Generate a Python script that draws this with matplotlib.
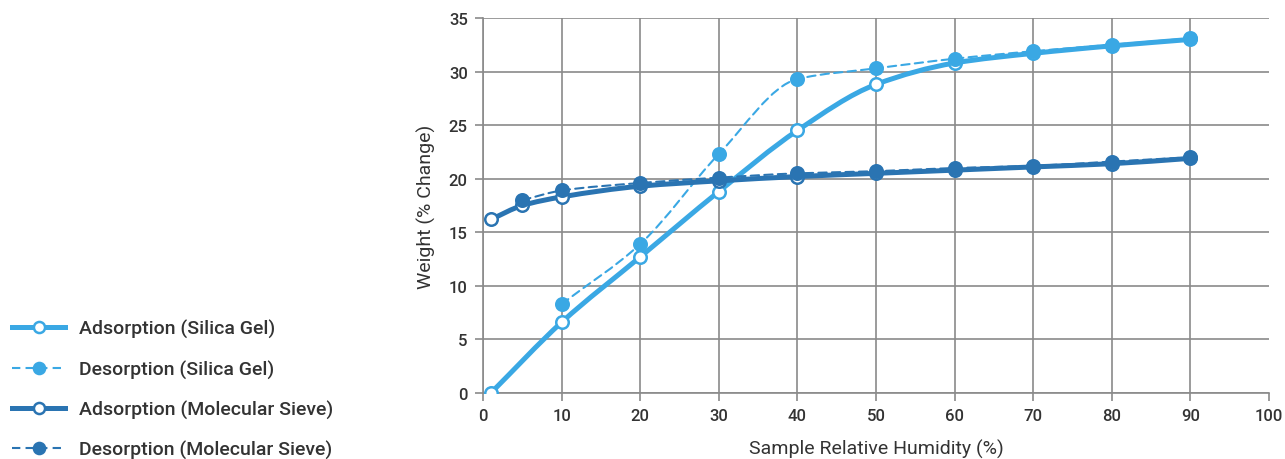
import numpy as np
import matplotlib
matplotlib.use("Agg")
import matplotlib.pyplot as plt
from matplotlib.path import Path
from matplotlib.patches import PathPatch
from matplotlib.lines import Line2D

plt.rcParams['font.family'] = ['Roboto', 'DejaVu Sans']
plt.rcParams['font.weight'] = 'medium'

# ---- data ----
silica_ads_x = [1, 10, 20, 30, 40, 50, 60, 70, 80, 90]
silica_ads_y = [0.0, 6.6, 12.7, 18.8, 24.5, 28.8, 30.8, 31.7, 32.4, 33.0]
silica_des_x = [10, 20, 30, 40, 50, 60, 70, 80, 90]
silica_des_y = [8.3, 13.9, 22.3, 29.3, 30.3, 31.2, 31.9, 32.5, 33.1]
sieve_ads_x = [1, 5, 10, 20, 30, 40, 50, 60, 70, 80, 90]
sieve_ads_y = [16.2, 17.5, 18.3, 19.3, 19.8, 20.2, 20.5, 20.8, 21.1, 21.4, 21.9]
sieve_des_x = [5, 10, 20, 30, 40, 50, 60, 70, 80, 90]
sieve_des_y = [18.0, 18.9, 19.6, 20.1, 20.5, 20.7, 21.0, 21.2, 21.6, 22.0]

labels = ["Adsorption (Silica Gel)", "Desorption (Silica Gel)",
          "Adsorption (Molecular Sieve)", "Desorption (Molecular Sieve)"]
x_ticks = [0, 10, 20, 30, 40, 50, 60, 70, 80, 90, 100]
y_ticks = [0, 5, 10, 15, 20, 25, 30, 35]

LIGHT = "#3AA8E4"
DARK = "#2A74B2"
GRID = "#8a8a8a"
TEXT = "#333333"


def smooth_path(x, y):
    """Monotone cubic Bezier path through the data points."""
    x = np.asarray(x, float)
    y = np.asarray(y, float)
    n = len(x)
    h = np.diff(x)
    d = np.diff(y) / h
    m = np.zeros(n)
    m[0] = d[0]
    m[-1] = d[-1]
    for i in range(1, n - 1):
        if d[i - 1] * d[i] <= 0:
            m[i] = 0
        else:
            w1 = 2 * h[i] + h[i - 1]
            w2 = h[i] + 2 * h[i - 1]
            m[i] = (w1 + w2) / (w1 / d[i - 1] + w2 / d[i])
    verts = [(x[0], y[0])]
    codes = [Path.MOVETO]
    for i in range(n - 1):
        dx = h[i] / 3.0
        verts += [(x[i] + dx, y[i] + m[i] * dx),
                  (x[i + 1] - dx, y[i + 1] - m[i + 1] * dx),
                  (x[i + 1], y[i + 1])]
        codes += [Path.CURVE4] * 3
    return Path(verts, codes)


fig = plt.figure(figsize=(12.85, 4.6), dpi=100)
ax = fig.add_axes([0.3759, 0.1435, 0.6116, 0.8152])

series = [
    (silica_ads_x, silica_ads_y, LIGHT, 3.6, '-', 'white', 3),
    (silica_des_x, silica_des_y, LIGHT, 1.5, (0, (4, 2.5)), LIGHT, 4),
    (sieve_ads_x, sieve_ads_y, DARK, 3.6, '-', 'white', 5),
    (sieve_des_x, sieve_des_y, DARK, 1.5, (0, (4, 2.5)), DARK, 6),
]

handles = []
for (xs, ys, col, lw, ls, mfc, z), lab in zip(series, labels):
    patch = PathPatch(smooth_path(xs, ys), fill=False, edgecolor=col,
                      linewidth=lw, linestyle=ls, zorder=z, capstyle='round')
    ax.add_patch(patch)
    ax.plot(xs, ys, linestyle='none', marker='o', markersize=9,
            markerfacecolor=mfc, markeredgecolor=col, markeredgewidth=1.8,
            zorder=z + 0.5)
    handles.append(Line2D([], [], color=col, linewidth=lw, linestyle=ls,
                          marker='o', markersize=8, markerfacecolor=mfc,
                          markeredgecolor=col, markeredgewidth=1.8))

ax.set_xlim(0, 100)
ax.set_ylim(0, 35)
ax.set_xticks(x_ticks)
ax.set_yticks(y_ticks)
ax.grid(True, color=GRID, linewidth=1.2, zorder=0)
ax.set_axisbelow(True)
xgl = ax.get_xgridlines()
xgl[-1].set_visible(False)

for s in ['top', 'right']:
    ax.spines[s].set_visible(False)
for s in ['left', 'bottom']:
    ax.spines[s].set_color(GRID)
    ax.spines[s].set_linewidth(1.2)
ax.tick_params(axis='both', colors=GRID, length=6, width=1.2,
               labelcolor=TEXT, labelsize=12)
ax.tick_params(axis='y', pad=5)
ax.tick_params(axis='x', pad=5)

ax.set_xlabel("Sample Relative Humidity (%)", fontsize=14, color=TEXT,
              labelpad=11)
ax.set_ylabel("Weight (% Change)", fontsize=14, color=TEXT, labelpad=9)

fig.legend(handles, labels, loc='lower left', bbox_to_anchor=(0.002, -0.022),
           frameon=False, fontsize=14, labelspacing=1.1, handlelength=2.7,
           handletextpad=0.75, labelcolor=TEXT, borderaxespad=0.2,
           borderpad=0.3)

fig.savefig("out.png", dpi=100)
